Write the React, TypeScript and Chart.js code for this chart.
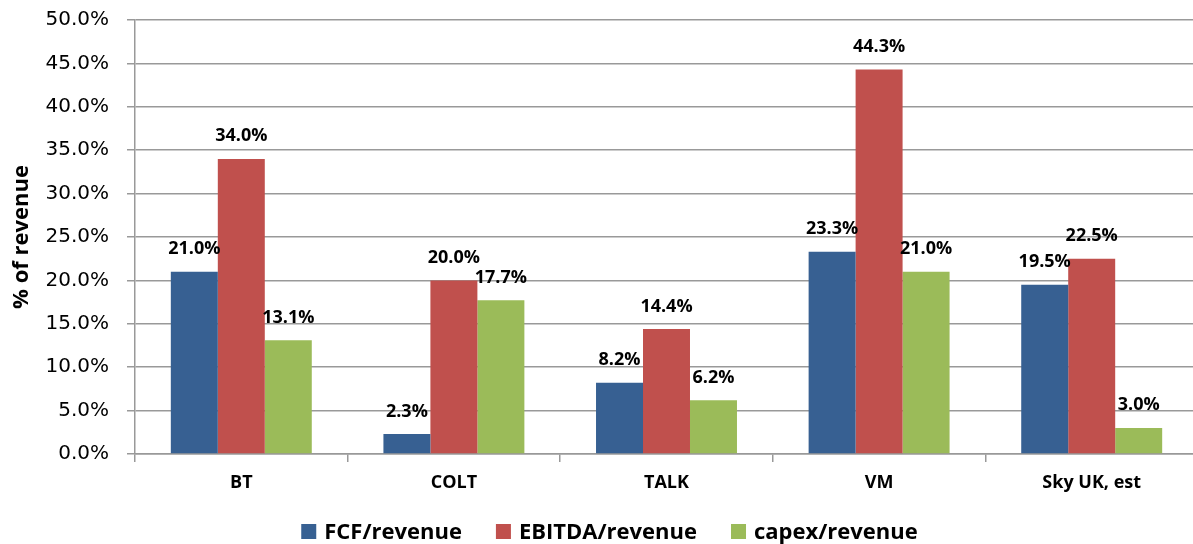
import React, { useEffect, useRef } from "react";
import { Chart, registerables } from "chart.js";

Chart.register(...registerables);

const categories = ["BT", "COLT", "TALK", "VM", "Sky UK, est"];
const fcfRevenue = [21.0, 2.3, 8.2, 23.3, 19.5];
const ebitdaRevenue = [34.0, 20.0, 14.4, 44.3, 22.5];
const capexRevenue = [13.1, 17.7, 6.2, 21.0, 3.0];
const seriesNames = ["FCF/revenue", "EBITDA/revenue", "capex/revenue"];
const yTicks = [0, 5, 10, 15, 20, 25, 30, 35, 40, 45, 50];

const GRID = "#999999";

const valueLabels = {
  id: "valueLabels",
  afterDatasetsDraw(chart: any) {
    const ctx = chart.ctx;
    ctx.save();
    ctx.font = "bold 18px 'Open Sans'";
    ctx.fillStyle = "#000000";
    ctx.textAlign = "center";
    ctx.textBaseline = "alphabetic";
    chart.data.datasets.forEach((ds: any, i: number) => {
      const meta = chart.getDatasetMeta(i);
      meta.data.forEach((bar: any, j: number) => {
        const v = ds.data[j];
        ctx.fillText(v.toFixed(1) + "%", bar.x, bar.y - 17.5);
      });
    });
    ctx.restore();
  },
};

const bottomLegend = {
  id: "bottomLegend",
  afterDraw(chart: any) {
    const ctx = chart.ctx;
    const box = 15;
    const gap = 8;
    const spacing = 34;
    const centerX = 609.5;
    const boxTop = 524;
    const baseline = 539;
    ctx.save();
    ctx.font = "bold 22px 'Open Sans'";
    ctx.textAlign = "left";
    ctx.textBaseline = "alphabetic";
    const items = chart.data.datasets.map((ds: any) => ({
      text: ds.label,
      color: ds.backgroundColor,
      w: ctx.measureText(ds.label).width,
    }));
    const total =
      items.reduce((s: number, it: any) => s + box + gap + it.w, 0) + spacing * (items.length - 1);
    let x = centerX - total / 2;
    items.forEach((it: any) => {
      ctx.fillStyle = it.color;
      ctx.fillRect(x, boxTop, box, box);
      ctx.fillStyle = "#000000";
      ctx.fillText(it.text, x + box + gap, baseline);
      x += box + gap + it.w + spacing;
    });
    ctx.restore();
  },
};

export default function App() {
  const ref = useRef<HTMLCanvasElement>(null);
  useEffect(() => {
    if (!ref.current) return;
    const chart = new Chart(ref.current, {
      type: "bar",
      data: {
        labels: categories,
        datasets: [
          { label: seriesNames[0], data: fcfRevenue, backgroundColor: "#376092" },
          { label: seriesNames[1], data: ebitdaRevenue, backgroundColor: "#C0504D" },
          { label: seriesNames[2], data: capexRevenue, backgroundColor: "#9BBB59" },
        ],
      },
      options: {
        responsive: false,
        animation: false,
        events: [],
        layout: { padding: { left: 0, top: 20, right: 0, bottom: 50 } },
        datasets: {
          bar: { categoryPercentage: 0.663, barPercentage: 1 },
        },
        plugins: {
          legend: { display: false },
          tooltip: { enabled: false },
        },
        scales: {
          x: {
            afterFit: (scale: any) => {
              scale.height = 40;
              scale.paddingLeft = 0;
              scale.paddingRight = 0;
            },
            grid: {
              display: true,
              drawOnChartArea: false,
              drawTicks: true,
              tickLength: 8,
              color: GRID,
              lineWidth: 1.5,
            },
            border: { display: true, color: GRID, width: 1.5 },
            ticks: {
              padding: 10,
              color: "#000000",
              font: { family: "'Open Sans'", size: 18, weight: "bold" },
            },
          },
          y: {
            min: 0,
            max: 50,
            afterFit: (scale: any) => {
              scale.width = 135;
              scale.paddingTop = 0;
              scale.paddingBottom = 0;
            },
            afterBuildTicks: (scale: any) => {
              scale.ticks = yTicks.map((v) => ({ value: v }));
            },
            grid: {
              color: GRID,
              lineWidth: 1.5,
              drawTicks: true,
              tickLength: 8,
            },
            border: { display: true, color: GRID, width: 1.5 },
            ticks: {
              padding: 18,
              color: "#000000",
              font: { family: "'DejaVu Sans'", size: 20 },
              callback: (v: any) => Number(v).toFixed(1) + "%",
            },
            title: {
              display: true,
              text: "% of revenue",
              color: "#000000",
              font: { family: "'Open Sans'", size: 22, weight: "bold" },
              padding: { top: 9, bottom: 0 },
            },
          },
        },
      },
      plugins: [valueLabels, bottomLegend],
    });
    return () => chart.destroy();
  }, []);

  return (
    <div
      style={{
        position: "fixed",
        left: 0,
        top: 0,
        width: 1193,
        height: 544,
        overflow: "hidden",
        background: "#ffffff",
      }}
    >
      <canvas ref={ref} width={1198} height={544} style={{ width: 1198, height: 544, display: "block" }} />
    </div>
  );
}
